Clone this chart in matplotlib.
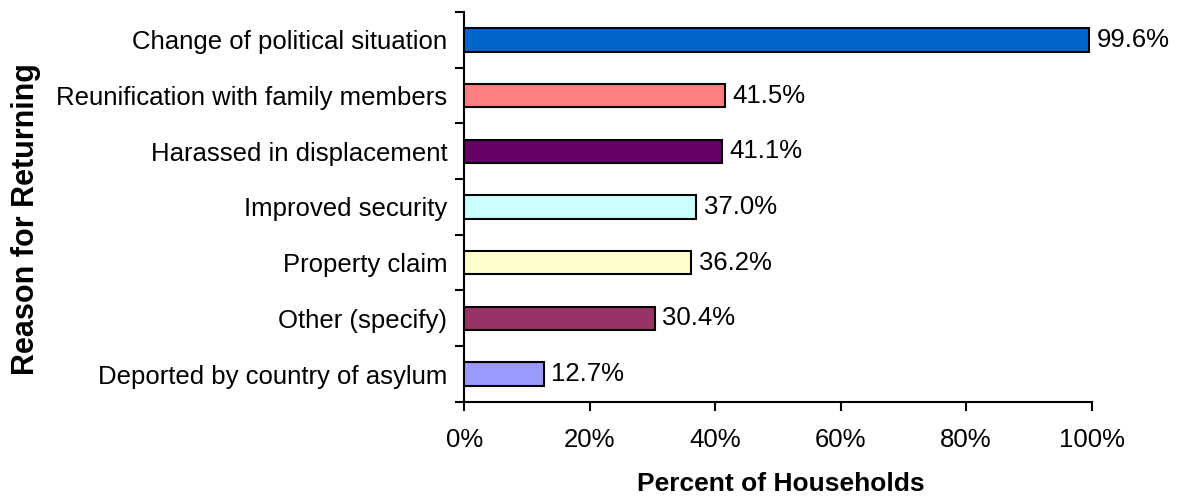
import matplotlib
matplotlib.use('Agg')
import matplotlib.pyplot as plt
import numpy as np

plt.rcParams['font.family'] = ['Liberation Sans', 'DejaVu Sans']

reasons = ['Change of political situation', 'Reunification with family members',
           'Harassed in displacement', 'Improved security', 'Property claim',
           'Other (specify)', 'Deported by country of asylum']
percents = [99.6, 41.5, 41.1, 37.0, 36.2, 30.4, 12.7]
colors = ['#0066CC', '#FF8080', '#660066', '#CCFFFF', '#FFFFCC', '#993366', '#9999FF']

fig = plt.figure(figsize=(11.78, 4.98), dpi=100)
ax = fig.add_axes([0.394, 0.193, 0.5327, 0.783])

y = np.arange(len(reasons))
ax.barh(y, percents, height=0.42, color=colors, edgecolor='black', linewidth=1.5, zorder=3)
for yi, v in zip(y, percents):
    ax.text(v + 1.2, yi, f'{v:.1f}%', va='center', ha='left', fontsize=18.5)

ax.set_xlim(0, 100)
ax.set_ylim(len(reasons) - 0.5, -0.5)
ax.set_xticks(np.arange(0, 101, 20))
ax.set_xticklabels([f'{t}%' for t in range(0, 101, 20)], fontsize=18.5)
ax.set_yticks(y)
ax.set_yticklabels(reasons, fontsize=18.5)
ax.set_yticks(np.arange(-0.5, len(reasons)), minor=True)
ax.tick_params(axis='y', which='major', length=0, pad=12)
ax.tick_params(axis='y', which='minor', length=6.5, width=1.5, direction='out')
ax.tick_params(axis='x', length=6.5, width=1.5, direction='out', pad=12)

for s in ['top', 'right']:
    ax.spines[s].set_visible(False)
for s in ['left', 'bottom']:
    ax.spines[s].set_linewidth(1.5)

ax.set_xlabel('Percent of Households', fontsize=19, fontweight='bold', va='top')
ax.xaxis.set_label_coords(0.504, -0.18)
ax.set_ylabel('Reason for Returning', fontsize=22, fontweight='bold')
ax.yaxis.set_label_coords(-0.674, 0.47)

fig.savefig('out.png', dpi=100)
